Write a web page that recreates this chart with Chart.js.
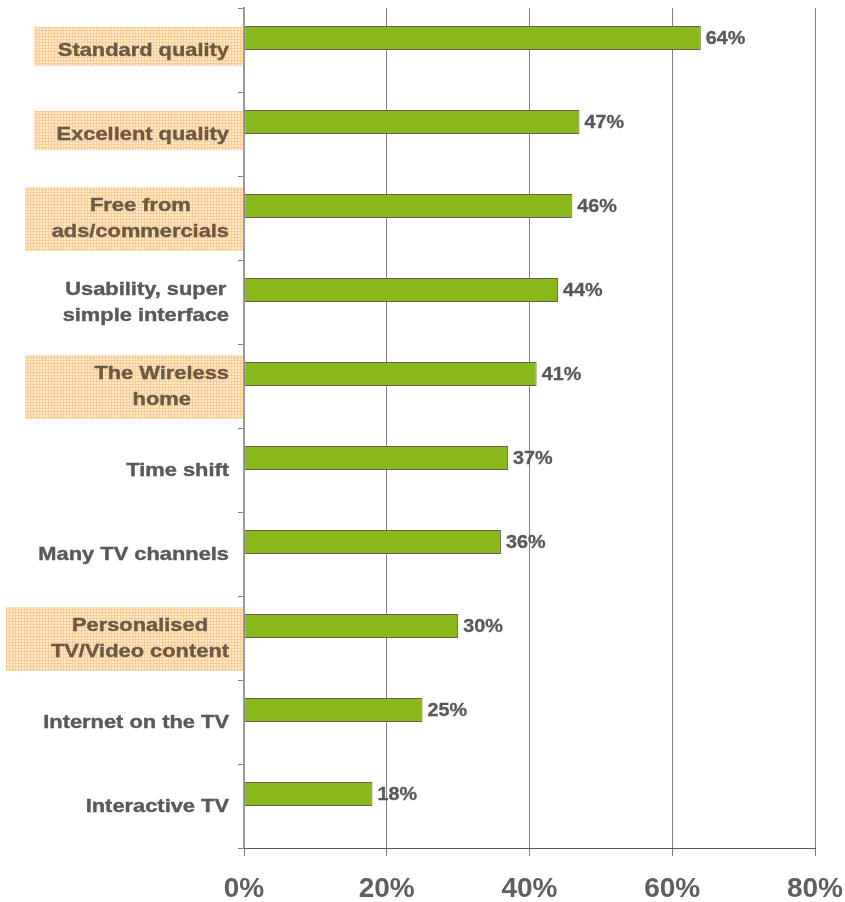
<!DOCTYPE html>
<html>
<head>
<meta charset="utf-8">
<script src="https://cdn.jsdelivr.net/npm/chart.js@4.4.1/dist/chart.umd.min.js"></script>
<style>
  html, body { margin: 0; padding: 0; background: #ffffff; }
  #wrap { width: 845px; height: 902px; position: relative; }
</style>
</head>
<body>
<div id="wrap"><canvas id="c" width="845" height="902"></canvas></div>
<script>
// ---- data ----
const categories = [
  ['Standard quality'],
  ['Excellent quality'],
  ['Free from', 'ads/commercials'],
  ['Usability, super', 'simple interface'],
  ['The Wireless', 'home'],
  ['Time shift'],
  ['Many TV channels'],
  ['Personalised', 'TV/Video content'],
  ['Internet on the TV'],
  ['Interactive TV']
];
const values = [64, 47, 46, 44, 41, 37, 36, 30, 25, 18];
const emptySeries = [null, null, null, null, null, null, null, null, null, null];
const highlighted = [true, true, true, false, true, false, false, true, false, false];
const xTicks = [0, 20, 40, 60, 80];

// ---- pattern for highlighted labels ----
function makePattern(ctx) {
  const t = document.createElement('canvas');
  t.width = 3; t.height = 3;
  const g = t.getContext('2d');
  g.fillStyle = '#fee9cf';
  g.fillRect(0, 0, 3, 3);
  g.fillStyle = '#f9cc92';
  g.fillRect(0, 0, 3, 1);
  g.fillRect(0, 0, 1, 3);
  return ctx.createPattern(t, 'repeat');
}

// left edges of the highlight boxes (decoration style, by category index)
const boxStyle = { 0: 34, 1: 34, 2: 25, 4: 25, 7: 6 };

const labelPlugin = {
  id: 'labelPlugin',
  afterDraw(chart) {
    const ctx = chart.ctx;
    const y = chart.scales.y;
    const area = chart.chartArea;
    const sx = 1.15;
    const fontSize = 19;
    const lineH = 26.5;
    const rightEdge = 229;
    ctx.save();
    ctx.font = 'bold ' + fontSize + 'px "Liberation Sans", Arial, sans-serif';
    const pattern = makePattern(ctx);
    categories.forEach((lines, i) => {
      const cy = y.getPixelForValue(i);
      let maxW = 0;
      lines.forEach(l => { maxW = Math.max(maxW, ctx.measureText(l).width * sx); });
      const cx = rightEdge - maxW / 2;
      if (highlighted[i]) {
        const h = lines.length === 1 ? 39 : 64;
        const c = lines.length === 1 ? cy - 3.5 : cy + 1;
        const left = boxStyle[i] !== undefined ? boxStyle[i] : rightEdge - maxW - 27;
        ctx.fillStyle = pattern;
        ctx.fillRect(left, c - h / 2, area.left - 1 - left, h);
      }
      const col = highlighted[i] ? '#6b5a42' : '#595959';
      ctx.fillStyle = col;
      ctx.strokeStyle = col;
      ctx.lineWidth = 0.4;
      ctx.textAlign = 'center';
      ctx.textBaseline = 'middle';
      const startY = cy - (lines.length - 1) * lineH / 2 + 1;
      lines.forEach((l, k) => {
        ctx.save();
        ctx.translate(cx, startY + k * lineH);
        ctx.scale(sx, 1);
        ctx.fillText(l, 0, 0);
        ctx.strokeText(l, 0, 0);
        ctx.restore();
      });
    });
    // value labels
    const meta = chart.getDatasetMeta(0);
    ctx.font = 'bold 18px "Liberation Sans", Arial, sans-serif';
    ctx.fillStyle = '#595959';
    ctx.strokeStyle = '#595959';
    ctx.lineWidth = 0.3;
    ctx.textAlign = 'left';
    ctx.textBaseline = 'middle';
    meta.data.forEach((bar, i) => {
      ctx.save();
      ctx.translate(bar.x + 5, bar.y + 1);
      ctx.scale(1.1, 1);
      ctx.fillText(values[i] + '%', 0, 0);
      ctx.strokeText(values[i] + '%', 0, 0);
      ctx.restore();
    });
    ctx.restore();
  }
};

new Chart(document.getElementById('c'), {
  type: 'bar',
  data: {
    labels: categories,
    datasets: [
      {
        data: values,
        backgroundColor: '#8ab81a',
        borderColor: '#5e6650',
        borderWidth: 1,
        borderSkipped: false,
        barPercentage: 1,
        categoryPercentage: 48 / 84
      },
      {
        data: emptySeries,
        backgroundColor: '#ffffff',
        barPercentage: 1,
        categoryPercentage: 48 / 84
      }
    ]
  },
  options: {
    indexAxis: 'y',
    responsive: false,
    animation: false,
    devicePixelRatio: 1,
    layout: { padding: { left: 0, top: 8, right: 30, bottom: 0 } },
    plugins: {
      legend: { display: false },
      tooltip: { enabled: false }
    },
    scales: {
      y: {
        type: 'category',
        afterFit(scale) { scale.width = 244; },
        ticks: { display: false },
        grid: {
          offset: true,
          drawOnChartArea: false,
          drawTicks: true,
          tickLength: 6,
          tickColor: '#808080',
          tickWidth: 1
        },
        border: { display: true, color: '#9a9a9a', width: 2 }
      },
      x: {
        type: 'linear',
        min: 0,
        max: 80,
        afterFit(scale) {
          scale.height = 54;
          scale.paddingLeft = 0;
          scale.paddingRight = 0;
        },
        afterBuildTicks(scale) { scale.ticks = xTicks.map(v => ({ value: v })); },
        ticks: {
          callback: v => v + '%',
          color: '#5f5f5f',
          font: { family: '"Liberation Sans", Arial, sans-serif', size: 28, weight: 'bold' },
          padding: 16,
          maxRotation: 0
        },
        grid: {
          color: '#808080',
          lineWidth: 1,
          drawTicks: true,
          tickLength: 8,
          tickColor: '#808080'
        },
        border: { display: true, color: '#595959', width: 1 }
      }
    }
  },
  plugins: [labelPlugin]
});
</script>
</body>
</html>
